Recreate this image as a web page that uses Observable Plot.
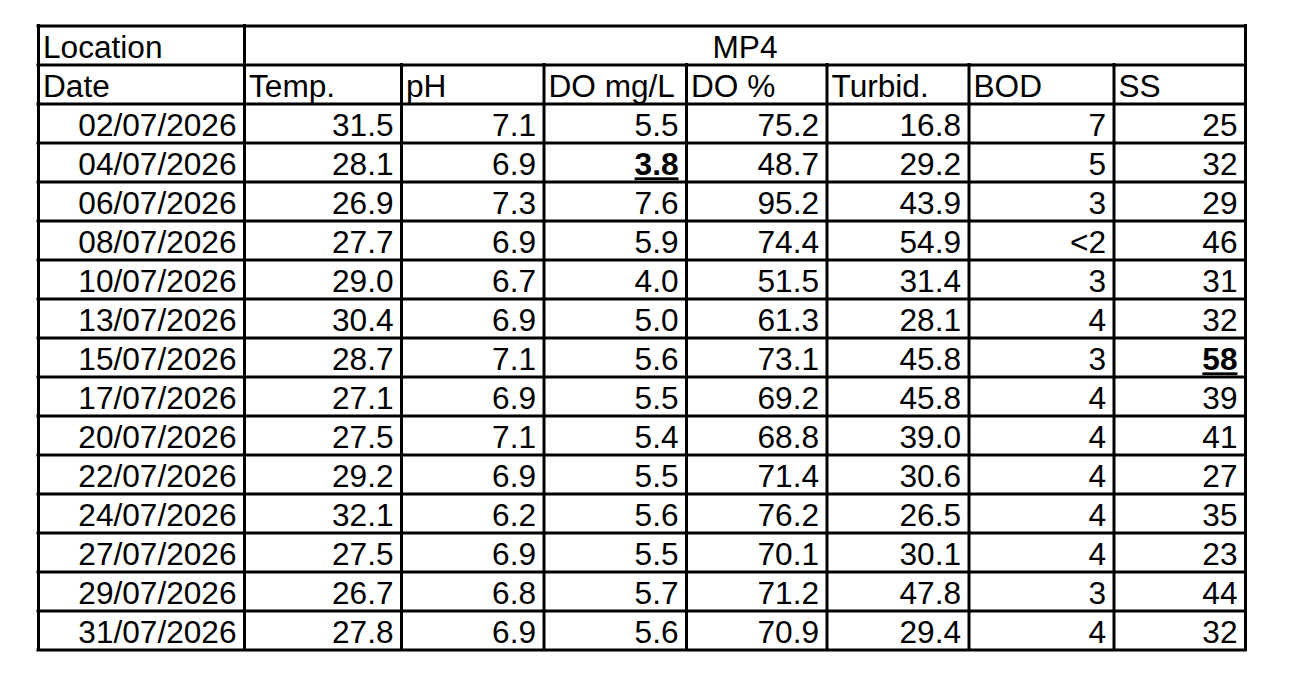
<!DOCTYPE html>
<html>
<head>
<meta charset="utf-8">
<script src="https://cdn.jsdelivr.net/npm/d3@7"></script>
<script src="https://cdn.jsdelivr.net/npm/@observablehq/plot@0.6"></script>
<style>
  html, body { margin: 0; padding: 0; background: #fff; }
  #chart svg { display: block; }
</style>
</head>
<body>
<div id="chart"></div>
<script>
// ---- data ----
const siteLabel = "Location";
const siteName = "MP4";
const columns = ["Date", "Temp.", "pH", "DO mg/L", "DO %", "Turbid.", "BOD", "SS"];
const dates = ["02/07/2026","04/07/2026","06/07/2026","08/07/2026","10/07/2026","13/07/2026","15/07/2026",
               "17/07/2026","20/07/2026","22/07/2026","24/07/2026","27/07/2026","29/07/2026","31/07/2026"];
const temp   = [31.5, 28.1, 26.9, 27.7, 29.0, 30.4, 28.7, 27.1, 27.5, 29.2, 32.1, 27.5, 26.7, 27.8];
const ph     = [7.1, 6.9, 7.3, 6.9, 6.7, 6.9, 7.1, 6.9, 7.1, 6.9, 6.2, 6.9, 6.8, 6.9];
const doMg   = [5.5, 3.8, 7.6, 5.9, 4.0, 5.0, 5.6, 5.5, 5.4, 5.5, 5.6, 5.5, 5.7, 5.6];
const doPct  = [75.2, 48.7, 95.2, 74.4, 51.5, 61.3, 73.1, 69.2, 68.8, 71.4, 76.2, 70.1, 71.2, 70.9];
const turbid = [16.8, 29.2, 43.9, 54.9, 31.4, 28.1, 45.8, 45.8, 39.0, 30.6, 26.5, 30.1, 47.8, 29.4];
const bod    = ["7", "5", "3", "<2", "3", "4", "3", "4", "4", "4", "4", "4", "3", "4"];
const ss     = [25, 32, 29, 46, 31, 32, 58, 39, 41, 27, 35, 23, 44, 32];
// highlighted (bold, underlined) cells: [column, row index]
const highlighted = [["DO mg/L", 1], ["SS", 6]];

// ---- layout ----
const colEdges = [38, 244, 401, 543.5, 686, 826.5, 968.5, 1113.5, 1245];
const nRows = dates.length + 2;
const fs = 31;
const stretch = 1.02;

// ---- build cells ----
const f1 = d3.format(".1f");
const series = [
  dates,
  temp.map(f1),
  ph.map(f1),
  doMg.map(f1),
  doPct.map(f1),
  turbid.map(f1),
  bod,
  ss.map(String)
];
const isHi = (c, r) => highlighted.some(([hc, hr]) => hc === columns[c] && hr === r);
const cells = [];
series.forEach((vals, c) => vals.forEach((v, r) => cells.push({col: c, row: r + 2, text: v, hi: isHi(c, r)})));
const headerCells = [{col: 0, row: 0, text: siteLabel}].concat(columns.map((t, c) => ({col: c, row: 1, text: t})));

// MP4 centre, expressed in column units through the same polylinear mapping
const pxToCol = d3.scaleLinear().domain(colEdges).range(d3.range(colEdges.length));
const mp4X = pxToCol((colEdges[1] + colEdges[colEdges.length - 1]) / 2);

const hLines = d3.range(nRows + 1);
const vLines = d3.range(colEdges.length).map(c => ({col: c, y1: (c <= 1 || c === colEdges.length - 1) ? 0 : 1}));

const font = "Liberation Sans, Arial, sans-serif";
const dyText = 2.5;

const chart = Plot.plot({
  width: 1297,
  height: 678,
  margin: 0,
  style: {fontFamily: font, background: "#fff", color: "#000"},
  x: {type: "linear", domain: d3.range(colEdges.length), range: colEdges, axis: null},
  y: {type: "linear", domain: [0, nRows], range: [25.5, 25.5 + 39 * nRows], axis: null},
  marks: [
    Plot.text(headerCells, {x: d => d.col, y: d => d.row + 0.5, text: d => d.text, textAnchor: "start",
      lineAnchor: "middle", dx: 4.5, dy: dyText, fontSize: fs, fill: "#000"}),
    Plot.text([siteName], {x: () => mp4X, y: () => 0.5, text: d => d, textAnchor: "middle",
      lineAnchor: "middle", dy: dyText, fontSize: fs, fill: "#000"}),
    Plot.text(cells.filter(d => !d.hi), {x: d => d.col + 1, y: d => d.row + 0.5, text: d => d.text, textAnchor: "end",
      lineAnchor: "middle", dx: -8, dy: dyText, fontSize: fs, fill: "#000"}),
    Plot.text(cells.filter(d => d.hi), {x: d => d.col + 1, y: d => d.row + 0.5, text: d => d.text, textAnchor: "end",
      lineAnchor: "middle", dx: -8, dy: dyText, fontSize: fs, fontWeight: "bold", fill: "#000"}),
    Plot.ruleY(hLines, {y: d => d, x1: () => 0, x2: () => colEdges.length - 1, stroke: "#000", strokeWidth: 3, strokeLinecap: "square"}),
    Plot.ruleX(vLines, {x: d => d.col, y1: d => d.y1, y2: () => nRows, stroke: "#000", strokeWidth: 3, strokeLinecap: "square"})
  ]
});

document.getElementById("chart").appendChild(chart);

// widen glyphs slightly (the reference text is a little wider than Liberation Sans)
chart.querySelectorAll("text").forEach(t => {
  const tr = t.getAttribute("transform");
  if (tr) t.setAttribute("transform", tr + ` scale(${stretch},1)`);
});

// underline highlighted values
const svgRect = chart.getBoundingClientRect();
chart.querySelectorAll('g[font-weight="bold"] text').forEach(t => {
  const b = t.getBoundingClientRect();
  const ul = document.createElementNS("http://www.w3.org/2000/svg", "rect");
  const base = b.bottom - svgRect.top - fs * 0.21;
  ul.setAttribute("x", b.left - svgRect.left);
  ul.setAttribute("width", b.width);
  ul.setAttribute("y", base + 2);
  ul.setAttribute("height", 2.8);
  ul.setAttribute("fill", "#000");
  chart.appendChild(ul);
});
</script>
</body>
</html>
